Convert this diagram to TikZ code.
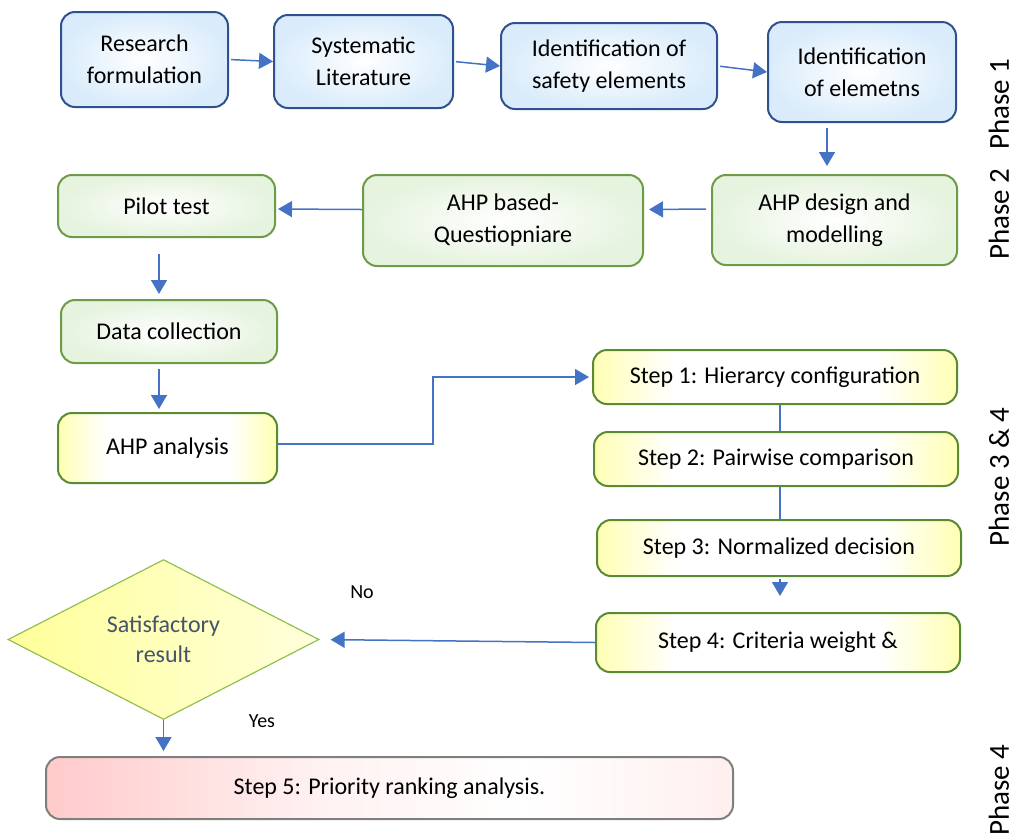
\documentclass[tikz,border=0pt]{standalone}
\usepackage{fontspec}
\setmainfont{Carlito}
\usetikzlibrary{shapes.geometric,arrows.meta}

\definecolor{arrowblue}{HTML}{4472C4}
\definecolor{boxblue}{HTML}{2F528F}
\definecolor{fillblue}{HTML}{DAECFB}
\definecolor{boxgreen}{HTML}{6D9B48}
\definecolor{fillgreen}{HTML}{E6F3DF}
\definecolor{stepgreen}{HTML}{5A8A32}
\definecolor{fillyellow}{HTML}{FFFFB4}
\definecolor{diagreen}{HTML}{92C050}
\definecolor{diayellow}{HTML}{FFFF99}
\definecolor{rankpink}{HTML}{FFCACA}
\definecolor{rankgrey}{HTML}{7F7F7F}
\definecolor{decisiontext}{HTML}{44546A}

% yellow at both ends, white in the middle (path spans 25bp to 75bp)
\pgfdeclarehorizontalshading{stepfade}{100bp}{color(0bp)=(fillyellow); color(25bp)=(fillyellow);
  color(36bp)=(white); color(64bp)=(white); color(75bp)=(fillyellow); color(100bp)=(fillyellow)}
% pink on the left, fading out
\pgfdeclarehorizontalshading{rankfade}{100bp}{color(0bp)=(rankpink); color(25bp)=(rankpink);
  color(45bp)=(rankpink!25); color(60bp)=(white); color(75bp)=(rankpink!30); color(100bp)=(rankpink!30)}

\tikzset{
  boxbase/.style={rounded corners=7pt, line width=1pt, align=center, inner sep=0pt,
    font=\fontsize{12}{16}\selectfont},
  bluebox/.style={boxbase, draw=boxblue, inner color=white, outer color=fillblue},
  greenbox/.style={boxbase, draw=boxgreen, inner color=white, outer color=fillgreen},
  stepbox/.style={boxbase, draw=stepgreen, shade, shading=stepfade},
  rankbox/.style={boxbase, draw=rankgrey, shade, shading=rankfade},
  decision/.style={diamond, draw=diagreen, line width=0.6pt, inner sep=0pt, align=center,
    left color=diayellow, right color=diayellow!35, text=decisiontext,
    font=\fontsize{12}{15}\selectfont},
  flow/.style={draw=arrowblue, line width=0.75pt, -{Triangle[length=7pt,width=8pt]}},
  link/.style={draw=arrowblue, line width=0.75pt},
  answer/.style={font=\fontsize{10}{12}\selectfont},
  phase/.style={rotate=90, font=\fontsize{14.5}{17}\selectfont},
}

\begin{document}
\begin{tikzpicture}[x=0.5pt,y=-0.5pt]
\useasboundingbox (0,0) rectangle (1014,837);

% Phase 1
\node[bluebox, minimum width=83.5pt, minimum height=47.5pt] (research) at (144.5,59.5) {Research\\formulation};
\node[bluebox, minimum width=89.5pt, minimum height=46.5pt] (literature) at (363.5,61.5) {Systematic\\Literature};
\node[bluebox, minimum width=108pt, minimum height=43pt] (safety) at (609,66) {Identification of\\safety elements};
\node[bluebox, minimum width=94pt, minimum height=50pt] (elements) at (862,72) {Identification\\of elemetns};

% Phase 2
\node[greenbox, minimum width=122.5pt, minimum height=45pt] (design) at (834.5,220) {AHP design and\\modelling};
\node[greenbox, minimum width=140pt, minimum height=45.5pt] (questionnaire) at (503,220.5) {AHP based-\\Questiopniare};
\node[greenbox, minimum width=108.5pt, minimum height=31pt] (pilot) at (166.5,206) {Pilot test};

% Phase 3 & 4
\node[greenbox, minimum width=108pt, minimum height=31.5pt] (collection) at (169,331.5) {Data collection};
\node[stepbox, minimum width=109.5pt, minimum height=35pt] (analysis) at (167.5,448) {AHP analysis};
\node[stepbox, minimum width=182pt, minimum height=27pt] (step1) at (775,377) {Step 1: Hierarcy configuration};
\node[stepbox, minimum width=182pt, minimum height=27pt] (step2) at (776,459) {Step 2: Pairwise comparison};
\node[stepbox, minimum width=182pt, minimum height=28pt] (step3) at (779,548) {Step 3: Normalized decision};
\node[stepbox, minimum width=182pt, minimum height=29.5pt] (step4) at (778,642.5) {Step 4: Criteria weight \&};
\node[decision, minimum width=155.5pt, minimum height=72.5pt] (satisfied) at (163.5,639.5) {Satisfactory\\result};

% Phase 4
\node[rankbox, minimum width=343.5pt, minimum height=31pt] (ranking) at (389.5,788) {Step 5: Priority ranking analysis.};

\node[answer] (no) at (362,592) {No};
\node[answer] (yes) at (262,721) {Yes};

\node[phase] (phase1) at (999,104) {Phase 1};
\node[phase] (phase2) at (999,214) {Phase 2};
\node[phase] (phase3) at (999,477) {Phase 3 \& 4};
\node[phase] (phase4) at (999,790) {Phase 4};

% connectors
\draw[flow, shorten <=1pt] (research.east) -- (literature.west);
\draw[flow, shorten <=1pt] (literature.east) -- (safety.west);
\draw[flow, shorten <=1pt] (safety.east) -- (elements.west);
\draw[flow] ([xshift=-17.5pt,yshift=-2.5pt]elements.south) -- ([xshift=-3.75pt,yshift=4pt]design.north);
\draw[flow] ([xshift=-2.5pt,yshift=5.5pt]design.west) -- ([xshift=2.5pt,yshift=5.5pt]questionnaire.east);
\draw[flow] ([yshift=5.5pt]questionnaire.west) -- ([xshift=1pt,yshift=-1.5pt]pilot.east);
\draw[flow] ([xshift=-3.75pt,yshift=-8pt]pilot.south) -- ([xshift=-5pt,yshift=2.5pt]collection.north);
\draw[flow] ([xshift=-5pt,yshift=-2.5pt]collection.south) -- ([xshift=-4.25pt,yshift=1.5pt]analysis.north);
\draw[flow, shorten >=1.5pt] ([yshift=2pt]analysis.east) -- ++(155,0) |- (step1.west);
\draw[link] ([xshift=2.5pt]step1.south) -- ([xshift=2pt]step2.north);
\draw[link] ([xshift=2pt]step2.south) -- ([xshift=0.5pt]step3.north);
\draw[flow] ([xshift=0.5pt,yshift=-1pt]step3.south) -- ([xshift=1pt,yshift=8pt]step4.north);
\draw[flow, shorten >=5.5pt] (step4.west) -- (satisfied.east);
\draw[flow, shorten >=2.5pt] (satisfied.south) -- (satisfied.south |- ranking.north);
\end{tikzpicture}
\end{document}
